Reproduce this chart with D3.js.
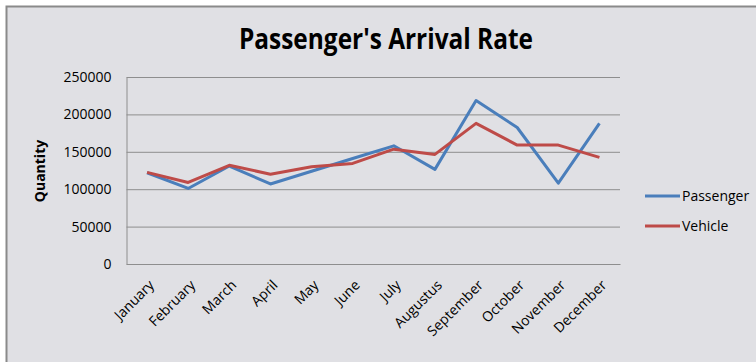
<html>
<head>
<style>
    body { margin: 0; background: #ffffff; }
    svg { display: block; }
    .grid line { stroke: #8e8e8e; stroke-width: 1; }
    .tick text { font-family: "Open Sans", "Liberation Sans", sans-serif; font-size: 14px; fill: #000; }
</style>
</head>
<body>
<svg id="container" width="756" height="362"></svg>
<script src="https://cdnjs.cloudflare.com/ajax/libs/d3/7.8.5/d3.min.js"></script>
<script>
    let months = ["January", "February", "March", "April", "May", "June", "July",
                  "Augustus", "September", "October", "November", "December"]
    let passenger = [122000, 101000, 131000, 107000, 124000, 141000, 158000, 126500, 218500, 182500, 108000, 188000]
    let vehicle = [122500, 109000, 132000, 120000, 130000, 134500, 153500, 146500, 188000, 159000, 159000, 142500]
    let yTicks = [0, 50000, 100000, 150000, 200000, 250000]
    let seriesNames = ["Passenger", "Vehicle"]
    let seriesColors = ["#4a7ebb", "#be4b48"]

    let svg = d3.select("#container")

    // chart frame
    svg.append("rect")
        .attr("x", 6.5).attr("y", 6.5)
        .attr("width", 760).attr("height", 370)
        .attr("fill", "#e0e0e4")
        .attr("stroke", "#8a8a8a")
        .attr("stroke-width", 2)

    svg.append("text")
        .attr("x", 386).attr("y", 49)
        .attr("text-anchor", "middle")
        .attr("font-family", "'Open Sans', sans-serif")
        .attr("font-weight", "bold")
        .attr("font-size", 28)
        .attr("textLength", 294)
        .attr("lengthAdjust", "spacingAndGlyphs")
        .text("Passenger's Arrival Rate")

    let plotLeft = 126.5, plotRight = 620, plotTop = 77, plotBottom = 264

    let xScale = d3.scaleBand().domain(months).range([plotLeft, plotRight])
    let yScale = d3.scaleLinear().domain([0, 250000]).range([plotBottom, plotTop])

    // gridlines + y labels
    let yAxis = svg.append("g")
        .attr("class", "grid")
        .attr("transform", "translate(" + plotLeft + ",0)")
        .call(d3.axisLeft(yScale).tickValues(yTicks).tickFormat(d3.format("d"))
            .tickSize(-(plotRight - plotLeft)).tickPadding(15))
    yAxis.select(".domain").attr("stroke", "#8e8e8e")

    let xAxis = svg.append("g")
        .attr("transform", "translate(0," + plotBottom + ")")
        .call(d3.axisBottom(xScale).tickSize(0).tickPadding(0))
    xAxis.select(".domain").attr("stroke", "#8e8e8e")
    xAxis.selectAll("text")
        .attr("text-anchor", "end")
        .attr("dy", 0)
        .attr("transform", "translate(8,22) rotate(-45)")

    svg.append("text")
        .attr("transform", "translate(45,171) rotate(-90)")
        .attr("text-anchor", "middle")
        .attr("font-family", "'Open Sans', sans-serif")
        .attr("font-weight", "bold")
        .attr("font-size", 14)
        .text("Quantity")

    let line = d3.line()
        .x((d, i) => xScale(months[i]) + xScale.bandwidth() / 2)
        .y(d => yScale(d))

    let allSeries = [passenger, vehicle]
    allSeries.forEach((s, k) => {
        svg.append("path")
            .datum(s)
            .attr("d", line)
            .attr("fill", "none")
            .attr("stroke", seriesColors[k])
            .attr("stroke-width", 3)
            .attr("stroke-linejoin", "round")
    })

    // legend
    let legend = svg.append("g")
    seriesNames.forEach((name, k) => {
        let ly = 196 + k * 30
        legend.append("line")
            .attr("x1", 645).attr("x2", 680)
            .attr("y1", ly).attr("y2", ly)
            .attr("stroke", seriesColors[k])
            .attr("stroke-width", 3)
        legend.append("text")
            .attr("x", 682).attr("y", ly + 5)
            .attr("font-family", "'Open Sans', sans-serif")
            .attr("font-size", 14)
            .text(name)
    })
</script>
</body>
</html>
